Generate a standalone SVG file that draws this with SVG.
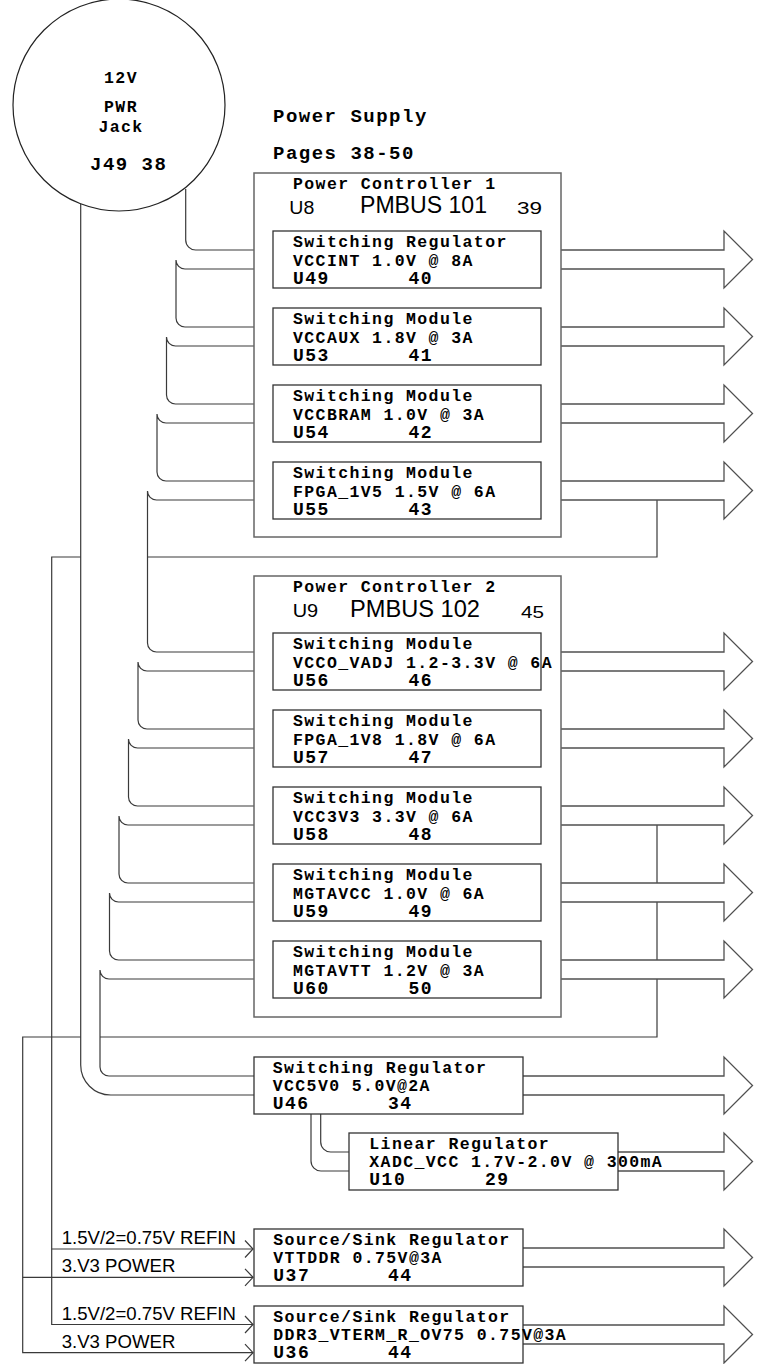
<svg xmlns="http://www.w3.org/2000/svg" width="768" height="1364" viewBox="0 0 768 1364">
<style>
.w{fill:none;stroke:#3a3a3a;stroke-width:1.2}
.arr{fill:#fff;stroke:#505050;stroke-width:1.3}
.box{fill:none;stroke:#333;stroke-width:1.3}
.pc{fill:none;stroke:#666;stroke-width:1.5}
.m{font-family:"Liberation Mono","Courier New",monospace;font-weight:bold;font-size:16.5px;letter-spacing:1.4px;fill:#000}
.m3{font-family:"Liberation Mono","Courier New",monospace;font-weight:bold;font-size:18px;letter-spacing:1.5px;fill:#000}
.big{font-family:"Liberation Mono","Courier New",monospace;font-weight:bold;font-size:19px;letter-spacing:1.5px;fill:#000}
.s{font-family:"Liberation Sans",Arial,sans-serif;fill:#000}
</style>
<rect width="768" height="1364" fill="#fff"/>
<g id="connectors">
<path class="w" d="M185.7,189 V240 A10,10 0 0 0 195.7,250 H254"/>
<path class="w" d="M254,269 H185 A9,9 0 0 1 176,260 V318 A9,9 0 0 0 185,327 H254"/>
<path class="w" d="M254,346 H175.5 A9,9 0 0 1 166.5,337 V395 A9,9 0 0 0 175.5,404 H254"/>
<path class="w" d="M254,423 H166 A9,9 0 0 1 157,414 V472 A9,9 0 0 0 166,481 H254"/>
<path class="w" d="M254,500 H156.5 A9,9 0 0 1 147.5,491 V643 A9,9 0 0 0 156.5,652 H254"/>
<path class="w" d="M254,671 H147 A9,9 0 0 1 138,662 V720 A9,9 0 0 0 147,729 H254"/>
<path class="w" d="M254,748 H137.5 A9,9 0 0 1 128.5,739 V797 A9,9 0 0 0 137.5,806 H254"/>
<path class="w" d="M254,825 H128 A9,9 0 0 1 119,816 V874 A9,9 0 0 0 128,883 H254"/>
<path class="w" d="M254,902 H118.5 A9,9 0 0 1 109.5,893 V951 A9,9 0 0 0 118.5,960 H254"/>
<path class="w" d="M254,979 H109 A9,9 0 0 1 100,970 V1067 A9,9 0 0 0 109,1076 H254"/>
<path class="w" d="M80.7,204 V1065 A30,30 0 0 0 110.7,1095 H254"/>
<path class="w" d="M311,1114 V1161 A10,10 0 0 0 321,1171 H349"/>
<path class="w" d="M320.7,1114 V1142 A10,10 0 0 0 330.7,1152 H349"/>
<path class="w" d="M657,500 V557 H147.5"/>
<path class="w" d="M80.7,557 H51.7 V1324.5 H253"/>
<path class="w" d="M51.7,1249 H253"/>
<path class="w" d="M657,825 V1037 H100"/>
<path class="w" d="M80.7,1037 H22.7 V1352.7 H253"/>
<path class="w" d="M22.7,1277.3 H253"/>
<path class="w" d="M245,1240.5 L253,1249 L245,1257.5"/>
<path class="w" d="M245,1268.8 L253,1277.3 L245,1285.8"/>
<path class="w" d="M245,1316 L253,1324.5 L245,1333"/>
<path class="w" d="M245,1344.2 L253,1352.7 L245,1361.2"/>
<path class="arr" d="M561,250 H724 V231 L752.5,259.5 L724,288 V269 H561"/>
<path class="arr" d="M561,327 H724 V308 L752.5,336.5 L724,365 V346 H561"/>
<path class="arr" d="M561,404 H724 V385 L752.5,413.5 L724,442 V423 H561"/>
<path class="arr" d="M561,481 H724 V462 L752.5,490.5 L724,519 V500 H561"/>
<path class="arr" d="M561,652 H724 V633 L752.5,661.5 L724,690 V671 H561"/>
<path class="arr" d="M561,729 H724 V710 L752.5,738.5 L724,767 V748 H561"/>
<path class="arr" d="M561,806 H724 V787 L752.5,815.5 L724,844 V825 H561"/>
<path class="arr" d="M561,883 H724 V864 L752.5,892.5 L724,921 V902 H561"/>
<path class="arr" d="M561,960 H724 V941 L752.5,969.5 L724,998 V979 H561"/>
<path class="arr" d="M523,1076 H724 V1057 L752.5,1085.5 L724,1114 V1095 H523"/>
<path class="arr" d="M618,1152 H724 V1133 L752.5,1161.5 L724,1190 V1171 H618"/>
<path class="arr" d="M523,1248 H724 V1229 L752.5,1257.5 L724,1286 V1267 H523"/>
<path class="arr" d="M523,1325 H724 V1306 L752.5,1334.5 L724,1363 V1344 H523"/>
</g>
<g id="jack">
<circle cx="119" cy="105" r="106" fill="none" stroke="#222" stroke-width="1.2"/>
<text class="m" x="121" y="83.3" text-anchor="middle">12V</text>
<text class="m" x="121" y="111.7" text-anchor="middle">PWR</text>
<text class="m" x="121" y="131.5" text-anchor="middle">Jack</text>
<text class="big" x="90" y="170">J49 38</text>
</g>
<g id="title">
<text class="big" x="273" y="121.7">Power Supply</text>
<text class="big" x="273" y="159">Pages 38-50</text>
</g>
<g id="pc1">
<rect class="pc" x="254" y="173" width="307" height="364"/>
<text class="m" x="293" y="189">Power Controller 1</text>
<text class="s" x="289.3" y="214" font-size="17.5" textLength="25" lengthAdjust="spacingAndGlyphs">U8</text>
<text class="s" x="360" y="213" font-size="23.5" textLength="127" lengthAdjust="spacingAndGlyphs">PMBUS 101</text>
<text class="s" x="517" y="214" font-size="17" textLength="25" lengthAdjust="spacingAndGlyphs">39</text>
</g>
<g id="u49">
<rect class="box" x="273" y="231" width="268" height="57"/>
<text class="m" x="293" y="246.5">Switching Regulator</text>
<text class="m" x="293" y="265.5">VCCINT 1.0V @ 8A</text>
<text class="m3" x="293" y="283.5">U49</text><text class="m3" x="408.5" y="283.5">40</text>
</g>
<g id="u53">
<rect class="box" x="273" y="308" width="268" height="57"/>
<text class="m" x="293" y="323.5">Switching Module</text>
<text class="m" x="293" y="342.5">VCCAUX 1.8V @ 3A</text>
<text class="m3" x="293" y="360.5">U53</text><text class="m3" x="408.5" y="360.5">41</text>
</g>
<g id="u54">
<rect class="box" x="273" y="385" width="268" height="57"/>
<text class="m" x="293" y="400.5">Switching Module</text>
<text class="m" x="293" y="419.5">VCCBRAM 1.0V @ 3A</text>
<text class="m3" x="293" y="437.5">U54</text><text class="m3" x="408.5" y="437.5">42</text>
</g>
<g id="u55">
<rect class="box" x="273" y="462" width="268" height="57"/>
<text class="m" x="293" y="477.5">Switching Module</text>
<text class="m" x="293" y="496.5">FPGA_1V5 1.5V @ 6A</text>
<text class="m3" x="293" y="514.5">U55</text><text class="m3" x="408.5" y="514.5">43</text>
</g>
<g id="pc2">
<rect class="pc" x="254" y="576" width="307" height="441"/>
<text class="m" x="293" y="592">Power Controller 2</text>
<text class="s" x="292.7" y="617" font-size="17.5" textLength="25.5" lengthAdjust="spacingAndGlyphs">U9</text>
<text class="s" x="350" y="616.5" font-size="23.5" textLength="130" lengthAdjust="spacingAndGlyphs">PMBUS 102</text>
<text class="s" x="521" y="618" font-size="17" textLength="23" lengthAdjust="spacingAndGlyphs">45</text>
</g>
<g id="u56">
<rect class="box" x="273" y="633" width="268" height="57"/>
<text class="m" x="293" y="648.5">Switching Module</text>
<text class="m" x="293" y="667.5">VCCO_VADJ 1.2-3.3V @ 6A</text>
<text class="m3" x="293" y="685.5">U56</text><text class="m3" x="408.5" y="685.5">46</text>
</g>
<g id="u57">
<rect class="box" x="273" y="710" width="268" height="57"/>
<text class="m" x="293" y="725.5">Switching Module</text>
<text class="m" x="293" y="744.5">FPGA_1V8 1.8V @ 6A</text>
<text class="m3" x="293" y="762.5">U57</text><text class="m3" x="408.5" y="762.5">47</text>
</g>
<g id="u58">
<rect class="box" x="273" y="787" width="268" height="57"/>
<text class="m" x="293" y="802.5">Switching Module</text>
<text class="m" x="293" y="821.5">VCC3V3 3.3V @ 6A</text>
<text class="m3" x="293" y="839.5">U58</text><text class="m3" x="408.5" y="839.5">48</text>
</g>
<g id="u59">
<rect class="box" x="273" y="864" width="268" height="57"/>
<text class="m" x="293" y="879.5">Switching Module</text>
<text class="m" x="293" y="898.5">MGTAVCC 1.0V @ 6A</text>
<text class="m3" x="293" y="916.5">U59</text><text class="m3" x="408.5" y="916.5">49</text>
</g>
<g id="u60">
<rect class="box" x="273" y="941" width="268" height="57"/>
<text class="m" x="293" y="956.5">Switching Module</text>
<text class="m" x="293" y="975.5">MGTAVTT 1.2V @ 3A</text>
<text class="m3" x="293" y="993.5">U60</text><text class="m3" x="408.5" y="993.5">50</text>
</g>
<g id="u46">
<rect class="box" x="254" y="1057" width="269" height="57"/>
<text class="m" x="272.7" y="1072.5">Switching Regulator</text>
<text class="m" x="272.7" y="1091">VCC5V0 5.0V@2A</text>
<text class="m3" x="272.7" y="1109">U46</text><text class="m3" x="388" y="1109">34</text>
</g>
<g id="u10">
<rect class="box" x="349" y="1133" width="269" height="57"/>
<text class="m" x="369.3" y="1148.5">Linear Regulator</text>
<text class="m" x="369.3" y="1167">XADC_VCC 1.7V-2.0V @ 300mA</text>
<text class="m3" x="369.3" y="1185">U10</text><text class="m3" x="485" y="1185">29</text>
</g>
<g id="u37">
<rect class="box" x="254" y="1229" width="269" height="57"/>
<text class="m" x="273.3" y="1244.5">Source/Sink Regulator</text>
<text class="m" x="273.3" y="1263">VTTDDR 0.75V@3A</text>
<text class="m3" x="273.3" y="1281">U37</text><text class="m3" x="388" y="1281">44</text>
</g>
<g id="u36">
<rect class="box" x="254" y="1306" width="269" height="57"/>
<text class="m" x="273.3" y="1321.5">Source/Sink Regulator</text>
<text class="m" x="273.3" y="1340">DDR3_VTERM_R_OV75 0.75V@3A</text>
<text class="m3" x="273.3" y="1358">U36</text><text class="m3" x="388" y="1358">44</text>
</g>
<g id="labels">
<text class="s" x="61.7" y="1243.5" font-size="18.6">1.5V/2=0.75V REFIN</text>
<text class="s" x="61.7" y="1271.7" font-size="18.6">3.V3 POWER</text>
<text class="s" x="61.7" y="1320" font-size="18.6">1.5V/2=0.75V REFIN</text>
<text class="s" x="61.7" y="1347.7" font-size="18.6">3.V3 POWER</text>
</g>
</svg>
